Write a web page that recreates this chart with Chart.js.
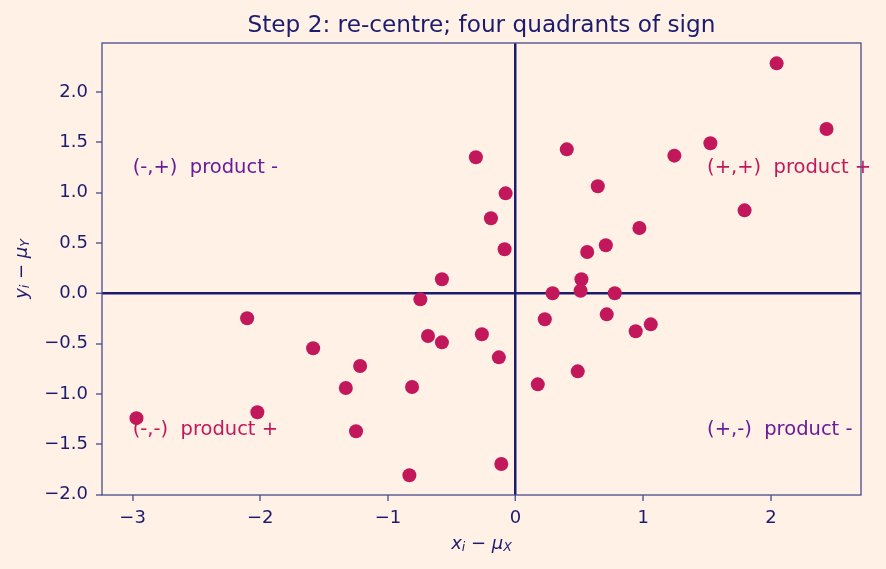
<!DOCTYPE html>
<html><head><meta charset="utf-8">
<script src="https://cdn.jsdelivr.net/npm/chart.js@4.4.1/dist/chart.umd.min.js"></script>
<style>html,body{margin:0;padding:0;background:#fff1e6;}#wrap{width:886px;height:569px;}</style>
</head><body><div id="wrap"><canvas id="c" width="886" height="569"></canvas></div>
<script>
const xDev = [2.045,2.436,1.526,1.244,0.401,-0.311,0.644,-0.078,1.794,-0.193,0.970,0.707,0.561,-0.086,-0.577,0.516,0.509,0.290,0.777,-0.746,-2.103,0.229,0.714,1.059,0.941,-0.686,-0.264,-0.577,-1.586,-0.131,-1.218,-1.330,-0.811,0.487,0.174,-2.970,-2.023,-1.250,-0.832,-0.112];
const yDev = [2.284,1.632,1.490,1.367,1.430,1.351,1.063,0.993,0.824,0.745,0.648,0.477,0.410,0.437,0.139,0.139,0.026,0.000,0.000,-0.060,-0.248,-0.258,-0.209,-0.308,-0.377,-0.424,-0.407,-0.487,-0.546,-0.636,-0.722,-0.940,-0.930,-0.775,-0.904,-1.240,-1.181,-1.370,-1.807,-1.695];
const xTicks = [-3,-2,-1,0,1,2];
const yTicks = [-2.0,-1.5,-1.0,-0.5,0.0,0.5,1.0,1.5,2.0];
const quadLabels = ["(-,+)  product -","(+,+)  product +","(-,-)  product +","(+,-)  product -"];
const quadX = [-3,1.5,-3,1.5];
const quadY = [1.25,1.25,-1.36,-1.36];
const quadSign = [-1,1,1,-1];
const titleText = "Step 2: re-centre; four quadrants of sign";

const NAVY = "#1c1c6e", SPINE = "#4a4a8c", PT = "#c2185b", NEG = "#6a1b9a";
const fmt = v => (v < 0 ? "\u2212" : "") + Math.abs(v);
const fmtY = v => (v < 0 ? "\u2212" : "") + Math.abs(v).toFixed(1);

const deco = {
  id: 'deco',
  beforeDraw(chart) {
    const c = chart.ctx; c.save(); c.fillStyle = "#fff1e6"; c.fillRect(0,0,chart.width,chart.height); c.restore();
  },
  afterDatasetsDraw(chart) {
    const c = chart.ctx, a = chart.chartArea, xs = chart.scales.x, ys = chart.scales.y;
    c.save();
    c.font = "19.5px 'DejaVu Sans'"; c.textBaseline = "middle"; c.textAlign = "left";
    quadLabels.forEach((t,i) => { c.fillStyle = quadSign[i] > 0 ? PT : NEG; c.fillText(t, xs.getPixelForValue(quadX[i]), ys.getPixelForValue(quadY[i])); });
    c.strokeStyle = SPINE; c.lineWidth = 1.3;
    c.strokeRect(a.left, a.top, a.right - a.left, a.bottom - a.top);
    c.fillStyle = NAVY; c.font = "23.2px 'DejaVu Sans'"; c.textAlign = "center"; c.textBaseline = "alphabetic";
    c.fillText(titleText, (a.left + a.right)/2, 32);
    const cx = (a.left + a.right)/2;
    function mathLabel(base, sub, sub2, x, y) {
      const big = "italic 18px 'DejaVu Sans'", small = "italic 12.5px 'DejaVu Sans'", reg = "18px 'DejaVu Sans'";
      const parts = [[base,big,0],[sub,small,4],[" \u2212 ",reg,0],["\u03bc",big,0],[sub2,small,4]];
      let w = 0; parts.forEach(p => { c.font = p[1]; w += c.measureText(p[0]).width; });
      let px = x - w/2; c.textAlign = "left";
      parts.forEach(p => { c.font = p[1]; c.fillText(p[0], px, y + p[2]); px += c.measureText(p[0]).width; });
    }
    c.fillStyle = NAVY; c.textBaseline = "middle";
    mathLabel("x","i","X",cx,544);
    c.translate(22, (a.top + a.bottom)/2); c.rotate(-Math.PI/2);
    mathLabel("y","i","Y",0,0);
    c.restore();
  }
};

new Chart(document.getElementById('c'), {
  type: 'scatter',
  data: { datasets: [{ data: xDev.map((x,i)=>({x, y:yDev[i]})), backgroundColor: PT, borderWidth: 0, pointRadius: 7, pointHoverRadius: 7 }] },
  options: {
    responsive: false, animation: false, devicePixelRatio: 1,
    layout: { padding: { top: 43, right: 25, left: 0, bottom: 0 } },
    plugins: { legend: { display: false }, tooltip: { enabled: false } },
    scales: {
      x: { type: 'linear', min: -3.24, max: 2.706,
        afterBuildTicks: s => { s.ticks = xTicks.map(v => ({value: v})); },
        afterFit: s => { s.height = 74; },
        ticks: { color: NAVY, font: { family: "'DejaVu Sans'", size: 18 }, padding: 7, callback: v => fmt(v), maxRotation: 0 },
        grid: { drawOnChartArea: true, color: ctx => ctx.tick && ctx.tick.value === 0 ? NAVY : 'rgba(0,0,0,0)', lineWidth: ctx => ctx.tick && ctx.tick.value === 0 ? 2.5 : 0, tickColor: SPINE, tickLength: 6, tickWidth: 1.3 },
        border: { display: false }
      },
      y: { type: 'linear', min: -2.003, max: 2.486,
        afterBuildTicks: s => { s.ticks = yTicks.map(v => ({value: v})); },
        afterFit: s => { s.width = 102; },
        ticks: { color: NAVY, font: { family: "'DejaVu Sans'", size: 18 }, padding: 8, callback: v => fmtY(v) },
        grid: { drawOnChartArea: true, color: ctx => ctx.tick && ctx.tick.value === 0 ? NAVY : 'rgba(0,0,0,0)', lineWidth: ctx => ctx.tick && ctx.tick.value === 0 ? 2.5 : 0, tickColor: SPINE, tickLength: 6, tickWidth: 1.3 },
        border: { display: false }
      }
    }
  },
  plugins: [deco]
});
</script></body></html>
